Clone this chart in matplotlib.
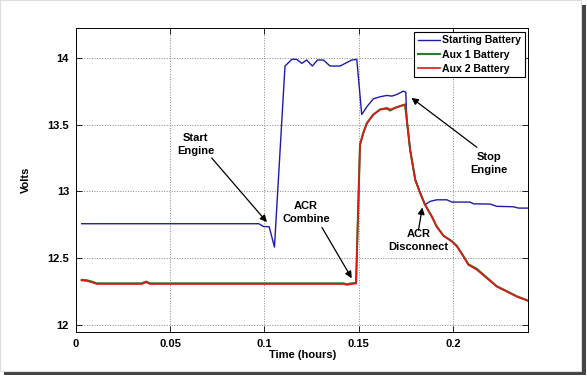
import numpy as np
import matplotlib.pyplot as plt
from matplotlib.patches import Rectangle

plt.rcParams['font.family'] = ['Liberation Sans', 'DejaVu Sans']
plt.rcParams['font.weight'] = 'bold'

# starting battery (hours, volts)
t_start = [0.003, 0.097, 0.0995, 0.1025, 0.1053, 0.1109, 0.1145, 0.1171, 0.1198, 0.1224,
           0.1254, 0.1281, 0.1313, 0.1348, 0.1401, 0.1463, 0.1490, 0.1516, 0.1543, 0.1578,
           0.1614, 0.1649, 0.1676, 0.1702, 0.1737, 0.1750, 0.1755, 0.1773, 0.1800, 0.1826,
           0.1852, 0.1879, 0.1914, 0.1968, 0.1994, 0.2038, 0.2091, 0.2109, 0.2197, 0.2233,
           0.2321, 0.2348, 0.2400]
v_start = [12.758, 12.758, 12.737, 12.735, 12.583, 13.938, 13.988, 13.988, 13.958, 13.983,
           13.938, 13.983, 13.983, 13.938, 13.938, 13.983, 13.988, 13.575, 13.633, 13.693,
           13.708, 13.718, 13.713, 13.725, 13.750, 13.743, 13.54, 13.31, 13.088, 12.988,
           12.900, 12.925, 12.937, 12.937, 12.920, 12.920, 12.920, 12.907, 12.905, 12.888,
           12.885, 12.875, 12.875]

# aux batteries
t_aux = [0.003, 0.0057, 0.0083, 0.011, 0.0349, 0.0372, 0.0393, 0.1419, 0.1437, 0.1463,
         0.1486, 0.1507, 0.1525, 0.1543, 0.1578, 0.1614, 0.1649, 0.1667, 0.1693, 0.1720,
         0.1746, 0.1755, 0.1773, 0.1800, 0.1826, 0.1852, 0.1888, 0.1914, 0.1950, 0.1994,
         0.2021, 0.2056, 0.2082, 0.2127, 0.2180, 0.2233, 0.2286, 0.2339, 0.2400]
v_aux1 = [12.338, 12.335, 12.325, 12.312, 12.312, 12.325, 12.312, 12.312, 12.305, 12.312,
          12.316, 13.35, 13.44, 13.51, 13.575, 13.613, 13.62, 13.605, 13.625, 13.638,
          13.65, 13.54, 13.31, 13.088, 12.988, 12.900, 12.812, 12.737, 12.668, 12.628,
          12.592, 12.515, 12.455, 12.42, 12.355, 12.29, 12.253, 12.215, 12.182]
v_aux2 = [12.333, 12.330, 12.320, 12.307, 12.307, 12.320, 12.307, 12.307, 12.300, 12.307,
          12.310, 13.35, 13.44, 13.51, 13.575, 13.613, 13.625, 13.613, 13.625, 13.638,
          13.65, 13.54, 13.31, 13.088, 12.988, 12.900, 12.812, 12.737, 12.668, 12.625,
          12.588, 12.512, 12.450, 12.413, 12.350, 12.287, 12.250, 12.212, 12.180]

fig = plt.figure(figsize=(5.87, 3.78), dpi=100)
# page shadow
fig.patches.append(Rectangle((4 / 587, 3 / 378), 582 / 587, 370 / 378, transform=fig.transFigure,
                             facecolor='#444444', edgecolor='none', zorder=-2))
fig.patches.append(Rectangle((0, 7 / 378), 581 / 587, 371 / 378, transform=fig.transFigure,
                             facecolor='white', edgecolor='#dddddd', lw=0.8, zorder=-1))
fig.patch.set_facecolor('white')

ax = fig.add_axes([0.1295, 0.1225, 0.7705, 0.8025])
ax.plot(t_start, v_start, color='#1c1ca8', lw=1.0, label='Starting Battery')
ax.plot(t_aux, v_aux1, color='#2a7a2a', lw=1.5, label='Aux 1 Battery')
ax.plot(t_aux, v_aux2, color='#e01818', lw=1.2, label='Aux 2 Battery')

ax.set_xlim(0, 0.24)
ax.set_ylim(11.95, 14.22)
ax.set_xticks([0, 0.05, 0.1, 0.15, 0.2])
ax.set_xticklabels(['0', '0.05', '0.1', '0.15', '0.2'])
ax.set_yticks([12, 12.5, 13, 13.5, 14])
ax.set_yticklabels(['12', '12.5', '13', '13.5', '14'])
ax.tick_params(direction='in', top=True, right=True, labelsize=8, length=4, width=0.6, pad=5)
ax.grid(True, linestyle=':', color='#888888', lw=0.7)
for s in ax.spines.values():
    s.set_linewidth(0.7)
ax.set_xlabel('Time (hours)', fontsize=8, fontweight='bold', labelpad=1)
ax.set_ylabel('Volts', fontsize=8, fontweight='bold', labelpad=12)

leg = ax.legend(loc='upper right', prop={'size': 7.6, 'weight': 'bold'}, fancybox=False,
                framealpha=1, edgecolor='black', handlelength=2.1, handletextpad=0.25,
                borderpad=0.3, labelspacing=0.42, borderaxespad=0.35)
leg.get_frame().set_linewidth(0.8)

arrow = dict(arrowstyle='-|>', color='black', lw=0.9, mutation_scale=10, shrinkA=0, shrinkB=0)
txt = dict(ha='center', va='center', fontsize=8, fontweight='bold', linespacing=1.35)
ax.text(0.0635, 13.35, 'Start\nEngine', **txt)
ax.annotate('', xy=(0.1013, 12.77), xytext=(0.0720, 13.25), arrowprops=arrow)
ax.text(0.1220, 12.84, 'ACR\nCombine', **txt)
ax.annotate('', xy=(0.1463, 12.35), xytext=(0.1305, 12.73), arrowprops=arrow)
ax.text(0.2193, 13.21, 'Stop\nEngine', **txt)
ax.annotate('', xy=(0.1780, 13.70), xytext=(0.2127, 13.33), arrowprops=arrow)
ax.text(0.1817, 12.63, 'ACR\nDisconnect', **txt)
ax.annotate('', xy=(0.1838, 12.88), xytext=(0.1817, 12.71), arrowprops=arrow)

fig.savefig('out.png', dpi=100)
